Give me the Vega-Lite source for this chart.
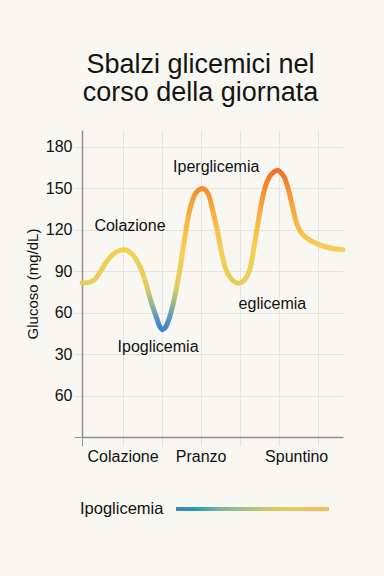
{
  "$schema": "https://vega.github.io/schema/vega-lite/v6.json",
  "width": 261,
  "height": 307,
  "autosize": {"type": "none"},
  "padding": {"left": 82, "top": 130, "right": 41, "bottom": 139},
  "background": "#f9f7f2",
  "title": {
    "text": ["Sbalzi glicemici nel", "corso della giornata"],
    "font": "Liberation Sans",
    "fontSize": 27,
    "fontWeight": "normal",
    "color": "#141414",
    "lineHeight": 28,
    "anchor": "middle",
    "frame": "group",
    "dx": -12,
    "offset": 23
  },
  "datasets": {
    "curve": [
      {"x": -0.04, "v": 81.3},
      {"x": 0.14, "v": 81.8},
      {"x": 0.29, "v": 84},
      {"x": 0.42, "v": 89},
      {"x": 0.57, "v": 96},
      {"x": 0.73, "v": 101.5},
      {"x": 0.89, "v": 104.5},
      {"x": 1.08, "v": 105.2},
      {"x": 1.27, "v": 101.5},
      {"x": 1.45, "v": 93},
      {"x": 1.6, "v": 81},
      {"x": 1.73, "v": 68},
      {"x": 1.87, "v": 56.3},
      {"x": 1.95, "v": 50},
      {"x": 2.02, "v": 47.6},
      {"x": 2.09, "v": 49},
      {"x": 2.17, "v": 53.6},
      {"x": 2.25, "v": 61},
      {"x": 2.37, "v": 76},
      {"x": 2.48, "v": 93},
      {"x": 2.61, "v": 117},
      {"x": 2.72, "v": 134},
      {"x": 2.84, "v": 144.5},
      {"x": 2.95, "v": 148.6},
      {"x": 3.07, "v": 149.6},
      {"x": 3.19, "v": 146},
      {"x": 3.3, "v": 135},
      {"x": 3.43, "v": 119},
      {"x": 3.54, "v": 103},
      {"x": 3.65, "v": 91},
      {"x": 3.76, "v": 85.3},
      {"x": 3.84, "v": 82.8},
      {"x": 3.97, "v": 81.2},
      {"x": 4.1, "v": 82.8},
      {"x": 4.17, "v": 85.3},
      {"x": 4.26, "v": 91},
      {"x": 4.35, "v": 104},
      {"x": 4.45, "v": 121},
      {"x": 4.56, "v": 139},
      {"x": 4.67, "v": 152},
      {"x": 4.8, "v": 159.5},
      {"x": 4.98, "v": 162.7},
      {"x": 5.13, "v": 158.5},
      {"x": 5.24, "v": 150},
      {"x": 5.36, "v": 136},
      {"x": 5.48, "v": 123},
      {"x": 5.6, "v": 117},
      {"x": 5.74, "v": 113.5},
      {"x": 5.9, "v": 110.8},
      {"x": 6.08, "v": 108.6},
      {"x": 6.35, "v": 106.5},
      {"x": 6.65, "v": 105.5}
    ],
    "notes": [
      {"x": 1.19, "v": 122.4, "label": "Colazione"},
      {"x": 3.4, "v": 165.1, "label": "Iperglicemia"},
      {"x": 1.91, "v": 34.9, "label": "Ipoglicemia"},
      {"x": 4.84, "v": 66.1, "label": "eglicemia"}
    ]
  },
  "encoding": {
    "x": {
      "field": "x",
      "type": "quantitative",
      "scale": {"domain": [-0.04, 6.65], "nice": false, "zero": false},
      "axis": {
        "title": null,
        "values": [-0.04, 1, 2, 3, 4, 5, 5.45, 6],
        "labelExpr": "datum.value == 1 ? 'Colazione' : (datum.value == 3 ? 'Pranzo' : (datum.value == 5.45 ? 'Spuntino' : ''))",
        "labelOverlap": false,
        "labelBound": false,
        "labelFlush": false,
        "labelFont": "Liberation Sans",
        "labelFontSize": 16,
        "labelColor": "#111111",
        "labelPadding": 2,
        "tickSize": 9,
        "tickWidth": 1,
        "tickColor": {"condition": {"test": "datum.value < 0", "value": "#8f8f8f"}, "value": "#e4e2dc"},
        "tickOpacity": {"condition": {"test": "datum.value == 5.45", "value": 0}, "value": 1},
        "grid": true,
        "gridColor": "#e6e4de",
        "gridOpacity": {"condition": {"test": "datum.value == 5.45 || datum.value < 0", "value": 0}, "value": 1},
        "domainColor": "#8f8f8f",
        "domainWidth": 1.5
      }
    },
    "y": {
      "field": "v",
      "type": "quantitative",
      "scale": {"domain": [-30, 192], "nice": false, "zero": false},
      "axis": {
        "title": "Glucoso (mg/dL)",
        "titleFont": "Liberation Sans",
        "titleFontSize": 15,
        "titleFontWeight": "normal",
        "titleColor": "#111111",
        "titlePadding": 5,
        "values": [-30, 0, 30, 60, 90, 120, 150, 180],
        "labelExpr": "datum.value == -30 ? '' : (datum.value == 0 ? '60' : datum.label)",
        "labelOverlap": false,
        "labelFont": "Liberation Sans",
        "labelFontSize": 16,
        "labelColor": "#111111",
        "labelPadding": 2,
        "tickSize": 8,
        "tickWidth": 1,
        "tickColor": {"condition": {"test": "datum.value == -30", "value": "#8f8f8f"}, "value": "#e4e2dc"},
        "grid": true,
        "gridColor": "#e6e4de",
        "gridOpacity": {"condition": {"test": "datum.value == -30", "value": 0}, "value": 1},
        "domainColor": "#8f8f8f",
        "domainWidth": 1.5
      }
    }
  },
  "layer": [
    {
      "data": {"name": "curve"},
      "mark": {"type": "point", "opacity": 0},
      "encoding": {
        "color": {
          "field": "v",
          "type": "quantitative",
          "scale": {"domain": [47, 163], "range": ["#4a7fc6", "#93b596", "#e8c95e", "#f8bb5a"]},
          "legend": {
            "orient": "none",
            "legendX": -2,
            "legendY": 377,
            "direction": "horizontal",
            "gradientLength": 153,
            "gradientThickness": 4,
            "gradientStrokeWidth": 0,
            "labelOpacity": 0,
            "labelFontSize": 1,
            "title": "Ipoglicemia",
            "titleOrient": "left",
            "titleFont": "Liberation Sans",
            "titleFontSize": 16.5,
            "titleFontWeight": "normal",
            "titleColor": "#111111",
            "titlePadding": 12
          }
        }
      }
    },
    {
      "data": {"name": "curve"},
      "mark": {
        "type": "line",
        "interpolate": "catmull-rom",
        "strokeWidth": 5,
        "strokeCap": "round",
        "strokeJoin": "round",
        "stroke": {
          "gradient": "linear",
          "x1": 0, "y1": 1, "x2": 0, "y2": 0,
          "stops": [
            {"offset": 0, "color": "#3d82cc"},
            {"offset": 0.08, "color": "#5a98c0"},
            {"offset": 0.17, "color": "#9bb98a"},
            {"offset": 0.27, "color": "#e3cd5e"},
            {"offset": 0.5, "color": "#f6cf55"},
            {"offset": 0.7, "color": "#f8b444"},
            {"offset": 0.87, "color": "#f59232"},
            {"offset": 1, "color": "#ee7222"}
          ]
        }
      }
    },
    {
      "data": {"name": "notes"},
      "mark": {"type": "text", "font": "Liberation Sans", "fontSize": 16, "color": "#111111", "align": "center", "baseline": "middle"},
      "encoding": {
        "text": {"field": "label", "type": "nominal"}
      }
    }
  ],
  "config": {"view": {"stroke": null}}
}
